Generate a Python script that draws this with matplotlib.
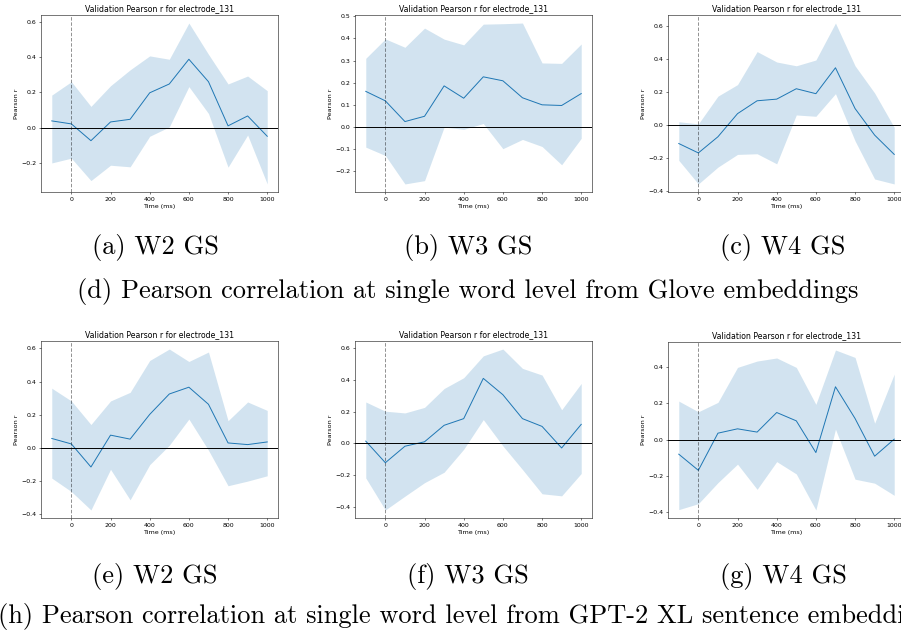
import numpy as np
import matplotlib
matplotlib.use("Agg")
import matplotlib.pyplot as plt

# lags (ms)
lags = [-100, 0, 100, 200, 300, 400, 500, 600, 700, 800, 900, 1000]

# Glove embeddings: mean r and band per window size
w2_glove_mean = [0.038, 0.021, -0.074, 0.032, 0.047, 0.197, 0.247, 0.387, 0.26, 0.01, 0.066, -0.049]
w2_glove_hi = [0.184, 0.26, 0.12, 0.237, 0.327, 0.406, 0.387, 0.592, 0.415, 0.247, 0.292, 0.209]
w2_glove_lo = [-0.2, -0.173, -0.3, -0.213, -0.222, -0.049, 0.004, 0.232, 0.08, -0.224, -0.042, -0.319]

w3_glove_mean = [0.16, 0.117, 0.023, 0.047, 0.185, 0.129, 0.226, 0.208, 0.131, 0.099, 0.096, 0.15]
w3_glove_hi = [0.31, 0.398, 0.36, 0.447, 0.397, 0.371, 0.465, 0.467, 0.47, 0.289, 0.287, 0.375]
w3_glove_lo = [-0.093, -0.131, -0.26, -0.245, -0.002, -0.012, 0.014, -0.1, -0.058, -0.09, -0.173, -0.053]

w4_glove_mean = [-0.114, -0.171, -0.073, 0.067, 0.145, 0.155, 0.218, 0.188, 0.345, 0.098, -0.063, -0.18]
w4_glove_hi = [0.018, 0.005, 0.173, 0.243, 0.443, 0.38, 0.357, 0.392, 0.616, 0.357, 0.192, -0.016]
w4_glove_lo = [-0.216, -0.359, -0.257, -0.18, -0.176, -0.237, 0.059, 0.051, 0.188, -0.098, -0.329, -0.359]

# GPT-2 XL sentence embeddings
w2_gpt_mean = [0.057, 0.024, -0.115, 0.077, 0.053, 0.202, 0.325, 0.366, 0.263, 0.03, 0.02, 0.036]
w2_gpt_hi = [0.36, 0.283, 0.141, 0.283, 0.335, 0.527, 0.596, 0.521, 0.578, 0.164, 0.277, 0.226]
w2_gpt_lo = [-0.182, -0.263, -0.374, -0.129, -0.313, -0.101, 0.016, 0.174, -0.014, -0.228, -0.2, -0.168]

w3_gpt_mean = [0.013, -0.123, -0.019, 0.009, 0.113, 0.155, 0.409, 0.306, 0.155, 0.106, -0.03, 0.119]
w3_gpt_hi = [0.26, 0.202, 0.191, 0.226, 0.345, 0.413, 0.551, 0.594, 0.472, 0.43, 0.211, 0.377]
w3_gpt_lo = [-0.219, -0.421, -0.334, -0.249, -0.183, -0.038, 0.149, -0.017, -0.166, -0.319, -0.332, -0.191]

w4_gpt_mean = [-0.081, -0.17, 0.035, 0.059, 0.041, 0.149, 0.103, -0.072, 0.291, 0.116, -0.092, 0.002]
w4_gpt_hi = [0.212, 0.153, 0.205, 0.398, 0.433, 0.45, 0.398, 0.194, 0.494, 0.453, 0.09, 0.361]
w4_gpt_lo = [-0.387, -0.354, -0.238, -0.136, -0.275, -0.122, -0.19, -0.389, 0.057, -0.219, -0.241, -0.308]

sub_captions = ["(a) W2 GS", "(b) W3 GS", "(c) W4 GS", "(e) W2 GS", "(f) W3 GS", "(g) W4 GS"]
row_captions = ["(d) Pearson correlation at single word level from Glove embeddings",
                "(h) Pearson correlation at single word level from GPT-2 XL sentence embeddings"]
title = "Validation Pearson r for electrode_131"

# everything is drawn at a shrunken scale
s = 0.47
plt.rcParams.update({
    "font.size": 10 * s,
    "axes.titlesize": 5.6,
    "axes.labelsize": 4.6,
    "xtick.labelsize": 4.5,
    "ytick.labelsize": 4.5,
    "axes.linewidth": 0.8 * s,
    "xtick.major.size": 3.5 * s,
    "ytick.major.size": 3.5 * s,
    "xtick.major.width": 0.8 * s,
    "ytick.major.width": 0.8 * s,
    "xtick.major.pad": 3.5 * s,
    "ytick.major.pad": 3.5 * s,
    "axes.labelpad": 4 * s,
    "axes.titlepad": 6 * s,
    "lines.linewidth": 1.5 * s,
})

W, H = 901, 636
fig = plt.figure(figsize=(W / 100, H / 100), dpi=100)


def px_rect(l, r, t, b):
    return [l / W, 1 - b / H, (r - l) / W, (b - t) / H]


panels = [
    (px_rect(41, 278, 15, 192), w2_glove_mean, w2_glove_lo, w2_glove_hi),
    (px_rect(355, 592, 15, 192), w3_glove_mean, w3_glove_lo, w3_glove_hi),
    (px_rect(668, 905, 15, 192), w4_glove_mean, w4_glove_lo, w4_glove_hi),
    (px_rect(41, 278, 341, 518), w2_gpt_mean, w2_gpt_lo, w2_gpt_hi),
    (px_rect(355, 592, 341, 518), w3_gpt_mean, w3_gpt_lo, w3_gpt_hi),
    (px_rect(668, 905, 342, 518), w4_gpt_mean, w4_gpt_lo, w4_gpt_hi),
]

for rect, mean, lo, hi in panels:
    ax = fig.add_axes(rect)
    ax.plot(lags, mean, color="C0")
    ax.fill_between(lags, lo, hi, color="C0", alpha=0.2, linewidth=0)
    ax.axhline(0, color="black", linewidth=0.7)
    ax.axvline(0, color="black", alpha=0.6, linewidth=0.5, linestyle=(0, (5, 2.5)))
    ax.set_title(title)
    ax.set_xlabel("Time (ms)")
    ax.set_ylabel("Pearson r")

cap_font = dict(family=["cmr10", "DejaVu Serif"], fontsize=19.0)
cap_x = [155, 468, 783]
for i, txt in enumerate(sub_captions):
    y = 254 if i < 3 else 583
    fig.text(cap_x[i % 3] / W, 1 - y / H, txt, ha="center", va="baseline", **cap_font)

fig.text(468 / W, 1 - 298 / H, row_captions[0], ha="center", va="baseline", **cap_font)
fig.text(470 / W, 1 - 623 / H, row_captions[1], ha="center", va="baseline", **cap_font)

fig.savefig("out.png", dpi=100)
